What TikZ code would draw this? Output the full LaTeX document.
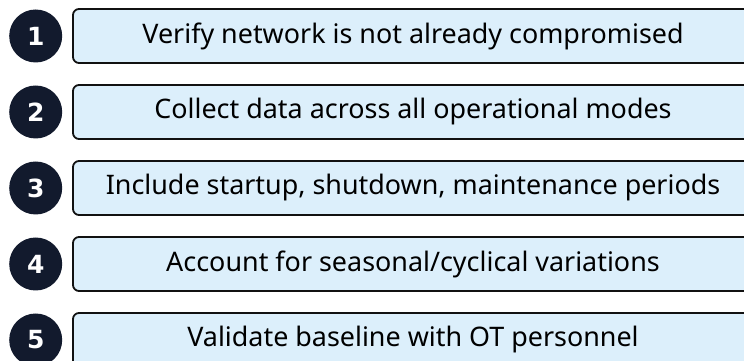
\documentclass[tikz,border=0pt]{standalone}
\usepackage{fontspec}
\setmainfont{Noto Sans}
\newfontfamily\numfont{DejaVu Sans}
\definecolor{stepfill}{HTML}{DCEFFB}
\definecolor{navy}{HTML}{121A2D}
\definecolor{edge}{HTML}{111111}
\begin{document}
\begin{tikzpicture}[x=1pt,y=1pt,
  numdot/.style={circle,fill=navy,minimum size=53pt,inner sep=0pt,
    text=white,font=\numfont\bfseries\fontsize{25}{25}\selectfont},
  stepbox/.style={draw=edge,line width=1.8pt,fill=stepfill,rounded corners=6pt,
    minimum width=680pt,minimum height=54pt,inner sep=0pt,
    font=\fontsize{26.9}{28}\selectfont,text=black}]
\useasboundingbox (0,0) rectangle (744,361);
\clip (0,0) rectangle (744,361);
\foreach \i/\y/\t in {1/325/{Verify network is not already compromised},
                      2/249/{Collect data across all operational modes},
                      3/173/{Include startup, shutdown, maintenance periods},
                      4/97/{Account for seasonal/cyclical variations},
                      5/21/{Validate baseline with OT personnel}}{
  \node[numdot] (n\i) at (35.7,\y) {\i};
  \node[stepbox] (s\i) at (413,\y) {\t};
}
\end{tikzpicture}
\end{document}
